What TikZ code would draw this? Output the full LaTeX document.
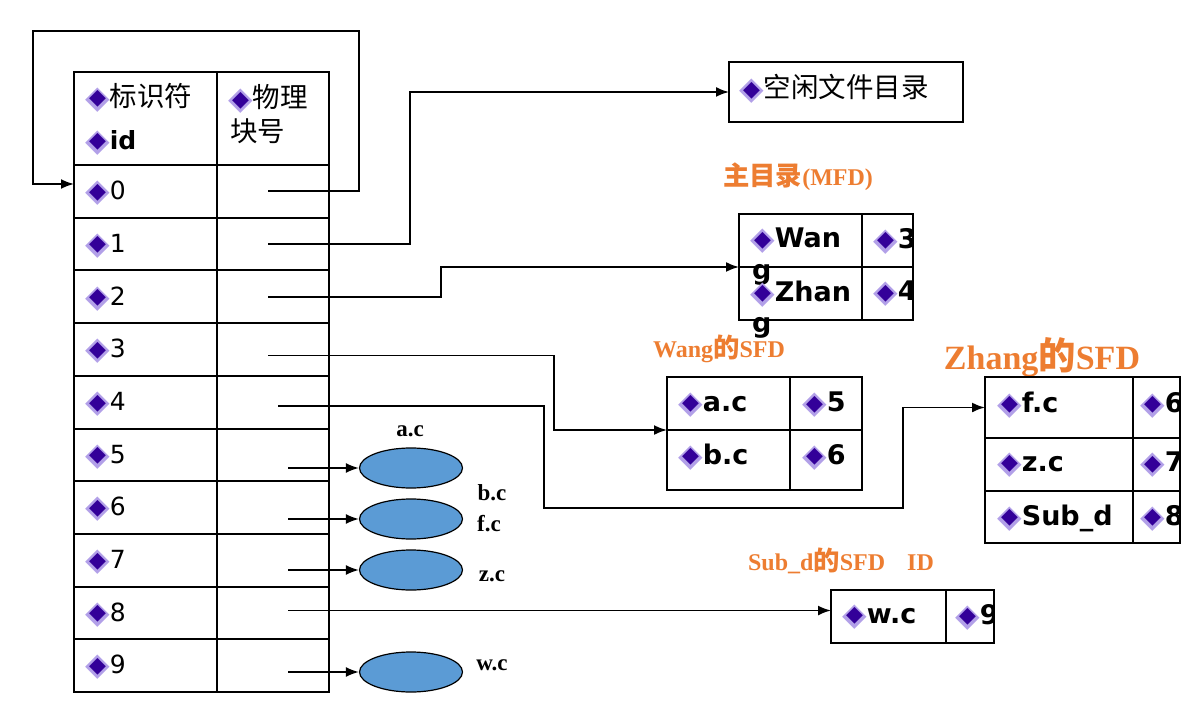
\documentclass[tikz,border=0pt]{standalone}
\usepackage{fontspec}
\setmainfont{Liberation Serif}
\setsansfont{DejaVu Sans}
\newfontfamily\cjk[Scale=1.1]{Noto Sans CJK SC}
\newfontfamily\symf{DejaVu Sans}
\usetikzlibrary{shapes.geometric, arrows.meta, positioning, calc}

\definecolor{fdorange}{RGB}{237,125,49}
\definecolor{fileblue}{RGB}{91,155,213}
\definecolor{diadark}{RGB}{51,0,153}
\definecolor{dialight}{RGB}{178,160,232}

% purple bullet with light rim
\newlength{\diaw}
\newcommand{\dia}{{\symf\fontsize{32}{32}\selectfont\settowidth{\diaw}{◆}\hspace*{-2pt}%
    \rlap{\raisebox{-2pt}{\textcolor{dialight}{◆}}}%
    \makebox[\diaw]{\fontsize{22}{22}\selectfont\raisebox{1.4pt}{\textcolor{diadark}{◆}}}}}

\begin{document}
\begin{tikzpicture}[x=1pt, y=-1pt,
    cell/.style={rectangle, draw=black, line width=2pt, inner sep=0pt, outer sep=0pt, anchor=north west},
    rowtext/.style={anchor=west, inner sep=0pt, align=left, font=\sffamily\fontsize{25}{30}\selectfont},
    celltext/.style={anchor=west, inner sep=0pt, align=left, font=\sffamily\bfseries\fontsize{27}{32}\selectfont},
    blob/.style={ellipse, draw=black, line width=1.2pt, fill=fileblue, minimum width=103pt, minimum height=40pt, inner sep=0pt},
    filename/.style={inner sep=0pt, font=\bfseries\fontsize{23}{27}\selectfont},
    fdlabel/.style={inner sep=0pt, text=fdorange, font=\bfseries\fontsize{24}{28}\selectfont},
    arrow/.style={-{Latex[length=13pt, width=10pt]}, line width=1.8pt}
]
    \useasboundingbox (0,0) rectangle (1194,711);

    % Directory table: id / physical block
    \node[cell, minimum width=143pt, minimum height=93pt] (idH) at (74,72) {};
    \node[cell, minimum width=112pt, minimum height=93pt] (pbH) at (217,72) {};
    \node[rowtext, font=\sffamily\fontsize{25}{43}\selectfont] (idHt) at (87,119) {\dia{\cjk 标识符}\\\dia\textbf{id}};
    \node[rowtext, font=\sffamily\fontsize{25}{34}\selectfont] (pbHt) at (230,114) {\dia{\cjk 物理}\\{\cjk 块号}};
    \foreach \i in {0,...,9} {
        \node[cell, minimum width=143pt, minimum height=52.7pt] (id\i) at (74,{165+52.7*\i}) {};
        \node[cell, minimum width=112pt, minimum height=52.7pt] (pb\i) at (217,{165+52.7*\i}) {};
        \node[rowtext] (idt\i) at ([xshift=13pt,yshift=-2pt]id\i.west) {\dia\i};
    }

    % Free file directory
    \node[cell, minimum width=234pt, minimum height=60pt] (free) at (729,62) {};
    \node[rowtext] (freet) at (741,89) {\dia{\cjk 空闲文件目录}};

    % Master file directory
    \node[fdlabel] (mfdlab) at (798,177) {{\cjk 主目录}(MFD)};
    \node[cell, minimum width=123pt, minimum height=53pt] (mfdA) at (739,214) {};
    \node[cell, minimum width=51pt, minimum height=53pt] (mfdAn) at (862,214) {};
    \node[cell, minimum width=123pt, minimum height=53pt] (mfdB) at (739,267) {};
    \node[cell, minimum width=51pt, minimum height=53pt] (mfdBn) at (862,267) {};
    \node[celltext] (mfdAt) at (752,241) {\rlap{\raisebox{-32pt}[0pt][0pt]{g}}\dia Wan};
    \node[celltext] (mfdBt) at (752,294) {\rlap{\raisebox{-31pt}[0pt][0pt]{g}}\dia Zhan};
    \begin{scope}
        \clip (mfdAn.north west) rectangle (mfdBn.south east);
        \node[celltext] (mfdAnt) at (875,241) {\dia 3};
        \node[celltext] (mfdBnt) at (875,294) {\dia 4};
    \end{scope}

    % Wang's SFD
    \node[fdlabel] (wanglab) at (719,349) {Wang{\cjk 的}SFD};
    \node[cell, minimum width=123pt, minimum height=53pt] (wA) at (667,377) {};
    \node[cell, minimum width=72pt, minimum height=53pt] (wAn) at (790,377) {};
    \node[cell, minimum width=123pt, minimum height=60pt] (wB) at (667,430) {};
    \node[cell, minimum width=72pt, minimum height=60pt] (wBn) at (790,430) {};
    \node[celltext] (wAt) at (680,405) {\dia a.c};
    \node[celltext] (wAnt) at (804,405) {\dia 5};
    \node[celltext] (wBt) at (680,457) {\dia b.c};
    \node[celltext] (wBnt) at (804,457) {\dia 6};

    % Zhang's SFD
    \node[fdlabel, font=\bfseries\fontsize{34}{40}\selectfont] (zhanglab) at (1042,357) {Zhang{\cjk 的}SFD};
    \node[cell, minimum width=148pt, minimum height=61pt] (zA) at (985,377) {};
    \node[cell, minimum width=47pt, minimum height=61pt] (zAn) at (1133,377) {};
    \node[cell, minimum width=148pt, minimum height=53pt] (zB) at (985,438) {};
    \node[cell, minimum width=47pt, minimum height=53pt] (zBn) at (1133,438) {};
    \node[cell, minimum width=148pt, minimum height=52pt] (zC) at (985,491) {};
    \node[cell, minimum width=47pt, minimum height=52pt] (zCn) at (1133,491) {};
    \node[celltext] (zAt) at (999,405) {\dia f.c};
    \node[celltext] (zBt) at (999,465) {\dia z.c};
    \node[celltext] (zCt) at (999,518) {\dia Sub\_d};
    \begin{scope}
        \clip (zAn.north west) rectangle (zCn.south east);
        \node[celltext] (zAnt) at (1142,405) {\dia 6};
        \node[celltext] (zBnt) at (1142,465) {\dia 7};
        \node[celltext] (zCnt) at (1142,518) {\dia 8};
    \end{scope}

    % Sub_d's SFD
    \node[fdlabel] (sublab) at (841,561) {Sub\_d{\cjk 的}SFD\hspace{22pt}ID};
    \node[cell, minimum width=115pt, minimum height=53pt] (sA) at (831,590) {};
    \node[cell, minimum width=48pt, minimum height=53pt] (sAn) at (946,590) {};
    \node[celltext] (sAt) at (844,617) {\dia w.c};
    \begin{scope}
        \clip (sAn.north west) rectangle (sAn.south east);
        \node[celltext] (sAnt) at (957,617) {\dia 9};
    \end{scope}

    % File blobs
    \node[blob] (blob5) at (411,468) {};
    \node[blob] (blob6) at (411,519) {};
    \node[blob] (blob7) at (411,570) {};
    \node[blob] (blob9) at (411,672) {};
    \node[filename] (ac) at (410,431) {a.c};
    \node[filename] (bc) at (492,493) {b.c};
    \node[filename] (fc) at (489,524) {f.c};
    \node[filename] (zc) at (492,576) {z.c};
    \node[filename] (wc) at (492,665) {w.c};

    % Entry 0 points back to the table itself
    \coordinate (loopR) at (359,31);
    \coordinate (loopL) at (33,184);
    \draw[arrow] ([xshift=-5pt]pb0.center) -| (loopR) -| (loopL) -- (loopL -| id0.west);

    % Entries 1-4 to directories
    \coordinate (bend1) at (410,0);
    \coordinate (bend2) at (441,0);
    \coordinate (bend3) at (554,0);
    \coordinate (bend4a) at (544,508);
    \coordinate (bend4b) at (903,0);
    \draw[arrow] ([xshift=-5pt]pb1.center) -| (bend1 |- free.west) -- (free.west);
    \draw[arrow] ([xshift=-5pt]pb2.center) -| (bend2 |- mfdA.south west) -- (mfdA.south west);
    \draw[arrow] ([xshift=-5pt,yshift=-6pt]pb3.center) -| (bend3 |- wA.south west) -- (wA.south west);
    \draw[arrow] ([xshift=5pt,yshift=-4pt]pb4.center) -| (bend4a) -| (bend4b |- zA.west) -- (zA.west);

    % Entries 5-9 to files and Sub_d
    \foreach \i in {5,6,7,9}
        \draw[arrow] ([xshift=15pt]pb\i.center |- blob\i.west) -- (blob\i.west);
    \draw[arrow] ([xshift=15pt,yshift=6pt]pb8.center |- sA.west) -- ([yshift=6pt]sA.west);
\end{tikzpicture}
\end{document}
